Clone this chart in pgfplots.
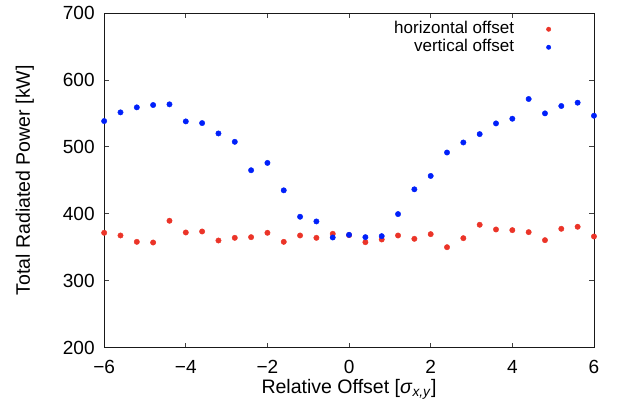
\documentclass[border=0pt]{standalone}
\usepackage{fontspec}
\setmainfont{Liberation Sans}
\usepackage{pgfplots}
\pgfplotsset{compat=1.18}
\definecolor{ptred}{RGB}{235,52,40}
\definecolor{ptblue}{RGB}{0,32,250}
\begin{document}
\begin{tikzpicture}[font=\fontsize{19}{22}\selectfont]
\begin{axis}[
 scale only axis, width=489pt, height=334pt,
 xmin=-6, xmax=6, ymin=200, ymax=700,
 xtick={-6,-4,-2,0,2,4,6}, xticklabels={−6,−4,−2,0,2,4,6},
 ytick={200,300,400,500,600,700},
 /pgf/number format/assume math mode=true,
 tick align=inside, major tick length=5pt,
 tick style={black!75, line width=0.7pt},
 axis line style={black!90, line width=0.9pt},
 tick label style={font=\fontsize{19}{22}\selectfont},
 xticklabel style={anchor=base, yshift=-25.5pt},
 yticklabel style={anchor=east, xshift=-6pt},
 xlabel={Relative Offset [\textit{σ}\textsubscript{\textit{x,y}}]},
 ylabel={Total Radiated Power [kW]},
 label style={font=\fontsize{19.5}{22}\selectfont},
 xlabel style={at={(axis description cs:0.5,-0.138)}, anchor=base},
 ylabel style={at={(axis description cs:-0.162,0.5)}, anchor=center},
 legend style={draw=none, fill=none, at={(axis description cs:0.922,0.985)}, anchor=north east,
   font=\fontsize{17}{17}\selectfont, row sep=0pt,
   nodes={inner sep=1pt, text height=12pt, text depth=4pt}},
 legend cell align=right,
 legend plot pos=right,
 legend image code/.code={\path (0cm,0cm) (1.3cm,0cm); \draw[#1, mark size=2.2pt] plot coordinates {(1.17cm,0cm)};},
]
\addplot[only marks, mark=*, mark size=2.7pt, color=ptred, mark options={draw=none, fill=ptred}] coordinates {
(-6.0,371.5) (-5.6,367.5) (-5.2,358) (-4.8,357) (-4.4,389.5) (-4.0,372) (-3.6,373.5)
(-3.2,360) (-2.8,364) (-2.4,365) (-2.0,371.5) (-1.6,358) (-1.2,367.5) (-0.8,364)
(-0.4,370) (0.0,368) (0.4,357.5) (0.8,361.5) (1.2,367.5) (1.6,362.5) (2.0,369.5)
(2.4,350) (2.8,363.5) (3.2,383.5) (3.6,376.5) (4.0,375.5) (4.4,372.5) (4.8,360.5)
(5.2,377.5) (5.6,380.5) (6.0,366)
};
\addlegendentry{horizontal offset}
\addplot[only marks, mark=*, mark size=2.7pt, color=ptblue, mark options={draw=none, fill=ptblue}] coordinates {
(-6.0,538.5) (-5.6,551.5) (-5.2,559) (-4.8,562.5) (-4.4,563.5) (-4.0,538) (-3.6,535.5)
(-3.2,520) (-2.8,507.5) (-2.4,465) (-2.0,476) (-1.6,435) (-1.2,395.5) (-0.8,388.5)
(-0.4,364.5) (0.0,368.5) (0.4,365) (0.8,366.5) (1.2,399.5) (1.6,436.5) (2.0,456.5)
(2.4,491.5) (2.8,506.5) (3.2,519) (3.6,535) (4.0,542) (4.4,571.5) (4.8,550)
(5.2,561) (5.6,566) (6.0,546.5)
};
\addlegendentry{vertical offset}
\end{axis}
\path (current axis.south west) ++(-104pt,-67pt);
\path (current axis.north east) ++(26pt,13pt);
\end{tikzpicture}
\end{document}
